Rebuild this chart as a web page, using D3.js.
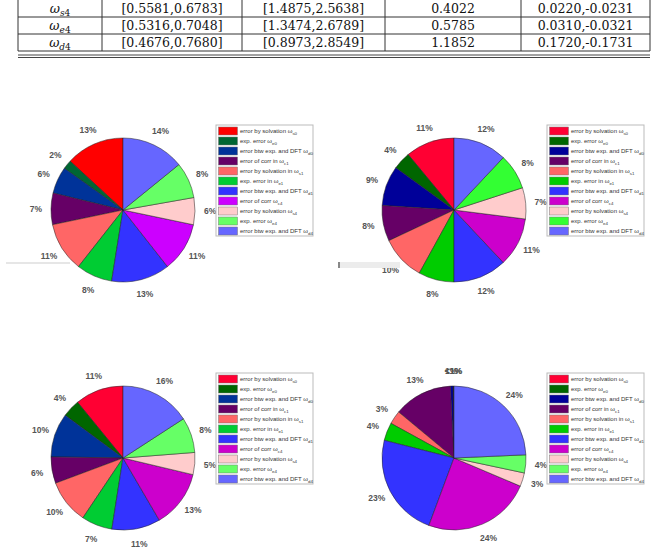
<!DOCTYPE html>
<html>
<head>
<meta charset="utf-8">
<script src="https://cdn.jsdelivr.net/npm/d3@7"></script>
<style>
  body { margin: 0; background: #fff; }
  svg { display: block; }
</style>
</head>
<body>
<svg width="654" height="552"></svg>
<script>
// table rows (partial, cut by the top of the page)
var tableSym = [["ω", "s4"], ["ω", "e4"], ["ω", "d4"]];
var tableCol1 = ["[0.5581,0.6783]", "[0.5316,0.7048]", "[0.4676,0.7680]"];
var tableCol2 = ["[1.4875,2.5638]", "[1.3474,2.6789]", "[0.8973,2.8549]"];
var tableCol3 = ["0.4022", "0.5785", "1.1852"];
var tableCol4 = ["0.0220,-0.0231", "0.0310,-0.0321", "0.1720,-0.1731"];

// legend entries, same for the four pies
var legendText = [
  "error by solvation ω", "exp. error ω", "error btw exp. and DFT ω",
  "error of corr in ω", "error by solvation in ω", "exp. error in ω",
  "error btw exp. and DFT ω", "error of corr ω", "error by solvation ω",
  "exp. error ω", "error btw exp. and DFT ω"
];
var legendSub = ["s0", "e0", "d0", "c1", "s1", "e1", "d1", "c4", "s4", "e4", "d4"];

// slice percentages
var pie1 = [13, 2, 6, 7, 11, 8, 13, 11, 6, 8, 14];
var pie2 = [11, 4, 9, 8, 10, 8, 12, 11, 7, 8, 12];
var pie3 = [11, 4, 10, 6, 10, 7, 11, 13, 5, 8, 16];
var pie4 = [0.1, 0.1, 0.6, 13, 3, 4, 23, 24, 3, 4, 24];

var pal1 = ["#ff0000", "#006633", "#003399", "#660066", "#ff6666", "#00cc33", "#3333ff", "#cc00ff", "#ffcccc", "#66ff66", "#6666ff"];
var pal2 = ["#ff0033", "#006600", "#000099", "#660066", "#ff6666", "#00cc00", "#3333ff", "#cc00cc", "#ffcccc", "#33ff33", "#6666ff"];
var pal3 = ["#ff0033", "#006600", "#003399", "#660066", "#ff6666", "#00cc33", "#3333ff", "#cc00cc", "#ffcccc", "#66ff66", "#6666ff"];
var pal4 = ["#ff0033", "#006600", "#000099", "#660066", "#ff6666", "#00cc00", "#3333ff", "#cc00cc", "#ffcccc", "#66ff66", "#6666ff"];

var svg = d3.select("svg");

// ---- table ----
var colX = [18, 102, 242, 385, 521, 650];
var rowY = [-1, 17, 34, 51];
var tbl = svg.append("g").attr("font-family", "'DejaVu Serif', 'Liberation Serif', serif")
    .attr("font-size", 12.5).attr("fill", "#111");

rowY.slice(1).forEach(function(y) {
  tbl.append("line").attr("x1", colX[0]).attr("x2", colX[5]).attr("y1", y).attr("y2", y)
      .attr("stroke", "#333").attr("stroke-width", 1);
});
colX.forEach(function(x) {
  tbl.append("line").attr("x1", x).attr("x2", x).attr("y1", rowY[0]).attr("y2", rowY[3])
      .attr("stroke", "#333").attr("stroke-width", 1);
});
[55, 57.5].forEach(function(y) {
  tbl.append("line").attr("x1", colX[0]).attr("x2", colX[5]).attr("y1", y).attr("y2", y)
      .attr("stroke", "#444").attr("stroke-width", 1);
});

var cols = [tableCol1, tableCol2, tableCol3, tableCol4];
tableSym.forEach(function(s, i) {
  var cy = (rowY[i] + rowY[i + 1]) / 2 + 4.5;
  var t = tbl.append("text").attr("x", (colX[0] + colX[1]) / 2).attr("y", cy).attr("text-anchor", "middle");
  t.append("tspan").attr("font-style", "italic").text(s[0]);
  t.append("tspan").attr("font-size", 9).attr("dy", 3).attr("font-style", "italic").text(s[1][0]);
  t.append("tspan").attr("font-size", 9).text(s[1].slice(1));
  cols.forEach(function(c, j) {
    tbl.append("text").attr("x", (colX[j + 1] + colX[j + 2]) / 2).attr("y", cy)
        .attr("text-anchor", "middle").text(c[i]);
  });
});

// ---- pies ----
var R = 72;
var pie = d3.pie().sort(null).startAngle(0).endAngle(-2 * Math.PI);
var arc = d3.arc().innerRadius(0).outerRadius(R);
var labelArc = d3.arc().innerRadius(R * 1.21).outerRadius(R * 1.21);

function fmt(v) { return v < 0.5 ? "<1%" : Math.round(v) + "%"; }

function drawPie(values, pal, cx, cy) {
  var g = svg.append("g").attr("transform", "translate(" + cx + "," + cy + ")");
  var arcs = pie(values);

  g.selectAll("path.slice").data(arcs).enter().append("path")
      .attr("class", "slice")
      .attr("d", arc)
      .attr("fill", function(d, i) { return pal[i]; })
      .attr("stroke", "#222")
      .attr("stroke-width", 0.5);

  g.selectAll("text.pct").data(arcs).enter().append("text")
      .attr("class", "pct")
      .attr("transform", function(d) { return "translate(" + labelArc.centroid(d) + ")"; })
      .attr("text-anchor", "middle")
      .attr("dy", "0.35em")
      .attr("font-family", "'Liberation Sans', Arial, sans-serif")
      .attr("font-size", 8.5)
      .attr("font-weight", "bold")
      .attr("fill", "#555")
      .text(function(d) { return fmt(d.data); });

  // legend
  var lg = g.append("g").attr("transform", "translate(93,-85)");
  lg.append("rect").attr("width", 97).attr("height", 111)
      .attr("fill", "#fff").attr("stroke", "#bbb").attr("stroke-width", 1);
  var row = lg.selectAll("g.item").data(legendText).enter().append("g")
      .attr("class", "item")
      .attr("transform", function(d, i) { return "translate(0," + (6 + i * 10) + ")"; });
  row.append("rect").attr("x", 2.5).attr("y", -4).attr("width", 19).attr("height", 8)
      .attr("fill", function(d, i) { return pal[i]; })
      .attr("stroke", "#777").attr("stroke-width", 0.5);
  var tx = row.append("text").attr("x", 24).attr("y", 2)
      .attr("font-family", "'Liberation Sans', Arial, sans-serif")
      .attr("font-size", 6).attr("fill", "#333");
  tx.append("tspan").text(function(d) { return d; });
  tx.append("tspan").attr("font-size", 4.4).attr("dy", 1.8)
      .text(function(d, i) { return legendSub[i]; });
}

drawPie(pie1, pal1, 123, 210);
drawPie(pie2, pal2, 454, 210);
drawPie(pie3, pal3, 123, 458);
drawPie(pie4, pal4, 454, 458);

// faint scan artifacts left of the pies
svg.append("rect").attr("x", 6).attr("y", 262).attr("width", 64).attr("height", 2).attr("fill", "#e6e6e6");
svg.append("rect").attr("x", 338).attr("y", 262).attr("width", 62).attr("height", 6).attr("fill", "#ececec");
svg.append("rect").attr("x", 338).attr("y", 262).attr("width", 2).attr("height", 6).attr("fill", "#888");
</script>
</body>
</html>
